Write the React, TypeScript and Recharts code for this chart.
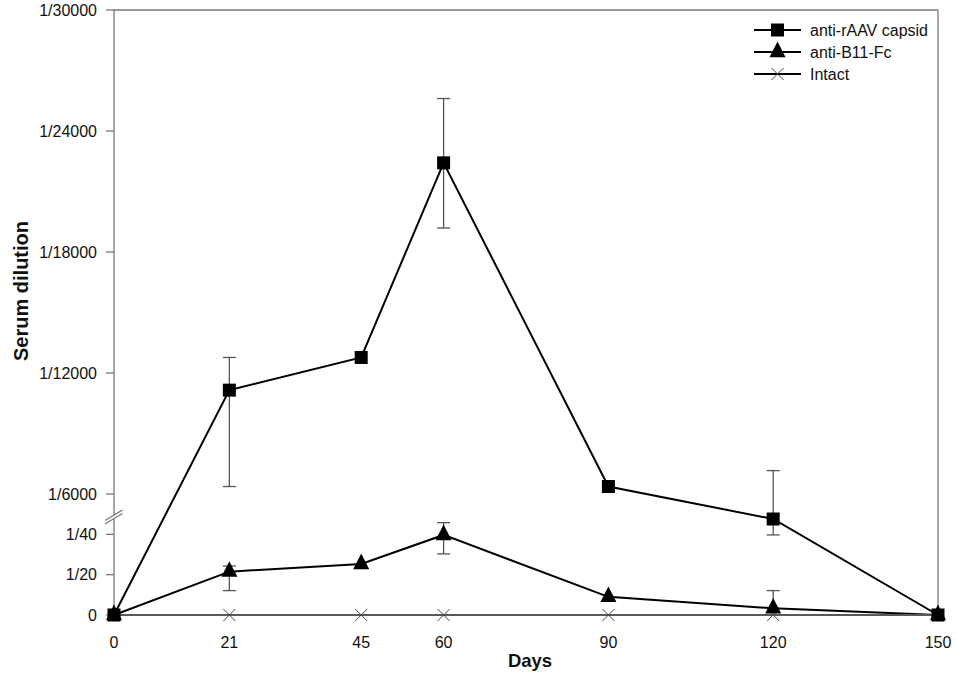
import {
  LineChart,
  Line,
  XAxis,
  YAxis,
  ErrorBar,
  Legend,
  ReferenceLine,
  ReferenceDot,
  Label,
} from "recharts";

const FONT = '"Liberation Sans", Arial, sans-serif';
const AXIS_GREY = "#777";

const days = [0, 21, 45, 60, 90, 120, 150];
const dayTicks = [0, 21, 45, 60, 90, 120, 150];

// anti-rAAV capsid titre (reciprocal dilution, upper scale)
const capsid = [0, 11150, 12770, 22420, 6370, 4760, 0];
const capsidHigh = [0, 12770, 12770, 25610, 6370, 7160, 0];
const capsidLow = [0, 6370, 12770, 19190, 6370, 3970, 0];

// anti-B11-Fc titre (reciprocal dilution, lower scale)
const b11 = [0, 21.5, 25.3, 39.7, 9, 3.3, 0];
const b11High = [0, 24.3, 25.3, 45.8, 9, 12.1, 0];
const b11Low = [0, 12.1, 25.3, 30.3, 9, 3.3, 0];

const intact = [0, 0, 0, 0, 0, 0, 0];

// the axis is broken: below the break the lower scale is 100x the upper one,
// so 2000/4000 on the upper axis sit where 1/20 and 1/40 are on the lower one
const yTicks = [0, 2000, 4000, 6000, 12000, 18000, 24000, 30000];
const yTickLabels = ["0", "1/20", "1/40", "1/6000", "1/12000", "1/18000", "1/24000", "1/30000"];
const breakAt = 4860;

const err = (v: number, lo: number, hi: number) =>
  lo === v && hi === v ? null : [v - lo, hi - v];

const data = days.map((day, i) => ({
  day,
  capsid: capsid[i],
  capsidErr: err(capsid[i], capsidLow[i], capsidHigh[i]),
  b11: b11[i],
  b11Err: err(b11[i], b11Low[i], b11High[i]),
  intact: intact[i],
}));

const square = (cx: number, cy: number, key?: any) => (
  <rect key={key} x={cx - 6.5} y={cy - 6.5} width={13} height={13} fill="#000" />
);
const triangle = (cx: number, cy: number, key?: any) => (
  <path
    key={key}
    d={`M${cx},${cy - 10.4}L${cx + 8},${cy + 5.2}L${cx - 8},${cy + 5.2}Z`}
    fill="#000"
  />
);
const cross = (cx: number, cy: number, key?: any) => (
  <path
    key={key}
    d={`M${cx - 6},${cy - 6}L${cx + 6},${cy + 6}M${cx + 6},${cy - 6}L${cx - 6},${cy + 6}`}
    stroke="#444"
    strokeWidth={1}
    fill="none"
  />
);

const dotOf = (draw: typeof square) => (p: any) =>
  p.cx == null ? <g key={p.index} /> : draw(p.cx, p.cy, p.index);

const legendItems = [
  { name: "anti-rAAV capsid", draw: square },
  { name: "anti-B11-Fc", draw: triangle },
  { name: "Intact", draw: cross },
];

function LegendBox() {
  return (
    <svg width={190} height={70} style={{ display: "block" }}>
      {legendItems.map((it, i) => {
        const y = 11 + i * 22;
        return (
          <g key={it.name}>
            <line x1={4} x2={51} y1={y} y2={y} stroke="#000" strokeWidth={2} />
            {it.draw(27.5, y)}
            <text x={60} y={y} dy="0.35em" fontSize={16} fontFamily={FONT} fill="#111">
              {it.name}
            </text>
          </g>
        );
      })}
    </svg>
  );
}

const BreakMark = (p: any) => {
  const { cx, cy } = p;
  return (
    <g>
      <path
        d={`M${cx - 9},${cy + 3.6}L${cx + 8.5},${cy - 7}L${cx + 8.5},${cy - 3.6}L${cx - 9},${cy + 7}Z`}
        fill="#fff"
      />
      <line x1={cx - 9} y1={cy + 3.6} x2={cx + 8.5} y2={cy - 7} stroke={AXIS_GREY} strokeWidth={1.2} />
      <line x1={cx - 9} y1={cy + 7} x2={cx + 8.5} y2={cy - 3.6} stroke={AXIS_GREY} strokeWidth={1.2} />
    </g>
  );
};

export default function App() {
  return (
    <div style={{ position: "absolute", left: 0, top: 0, background: "#fff" }}>
      <LineChart
        width={957}
        height={678}
        data={data}
        margin={{ top: 10, right: 19, left: 0, bottom: 33 }}
        style={{ fontFamily: FONT }}
      >
        <XAxis
          dataKey="day"
          type="number"
          domain={[0, 150]}
          ticks={dayTicks}
          interval={0}
          tickLine={false}
          axisLine={{ stroke: AXIS_GREY, strokeWidth: 1.3 }}
          tickSize={8}
          tickMargin={14}
          height={30}
          tick={{ fontSize: 16, fill: "#111", fontFamily: FONT }}
        >
          <Label
            content={() => (
              <text
                x={530}
                y={667}
                textAnchor="middle"
                fontSize={18.5}
                fontWeight="bold"
                fontFamily={FONT}
                fill="#111"
              >
                Days
              </text>
            )}
          />
        </XAxis>
        <YAxis
          yAxisId="high"
          type="number"
          domain={[0, 30000]}
          ticks={yTicks}
          interval={0}
          width={114}
          tickSize={8}
          tickMargin={9}
          tickFormatter={(v: number) => yTickLabels[yTicks.indexOf(v)]}
          axisLine={{ stroke: AXIS_GREY, strokeWidth: 1.3 }}
          tickLine={{ stroke: AXIS_GREY, strokeWidth: 1.3 }}
          tick={{ fontSize: 16, fill: "#111", fontFamily: FONT }}
        >
          <Label
            content={() => (
              <text
                x={28}
                y={291}
                transform="rotate(-90 28 291)"
                textAnchor="middle"
                fontSize={20}
                fontWeight="bold"
                fontFamily={FONT}
                fill="#111"
              >
                Serum dilution
              </text>
            )}
          />
        </YAxis>
        <YAxis yAxisId="low" type="number" domain={[0, 300]} hide />

        <ReferenceLine yAxisId="high" y={30000} stroke={AXIS_GREY} strokeWidth={1.3} />
        <ReferenceLine yAxisId="high" x={150} stroke={AXIS_GREY} strokeWidth={1.3} />
        <ReferenceDot yAxisId="high" x={0} y={breakAt} shape={BreakMark} />

        <Line
          yAxisId="low"
          dataKey="intact"
          stroke="#000"
          strokeWidth={2}
          dot={dotOf(cross)}
          activeDot={false}
          isAnimationActive={false}
        />
        <Line
          yAxisId="low"
          dataKey="b11"
          stroke="#000"
          strokeWidth={2}
          dot={dotOf(triangle)}
          activeDot={false}
          isAnimationActive={false}
        >
          <ErrorBar dataKey="b11Err" direction="y" width={6.5} stroke="#555" strokeWidth={1.3} />
        </Line>
        <Line
          yAxisId="high"
          dataKey="capsid"
          stroke="#000"
          strokeWidth={2}
          dot={dotOf(square)}
          activeDot={false}
          isAnimationActive={false}
        >
          <ErrorBar dataKey="capsidErr" direction="y" width={6.5} stroke="#555" strokeWidth={1.3} />
        </Line>

        <Legend
          layout="vertical"
          align="center"
          verticalAlign="middle"
          content={() => <LegendBox />}
          wrapperStyle={{ position: "absolute", left: 750, top: 19, width: 190, height: 70 }}
        />
      </LineChart>
    </div>
  );
}
